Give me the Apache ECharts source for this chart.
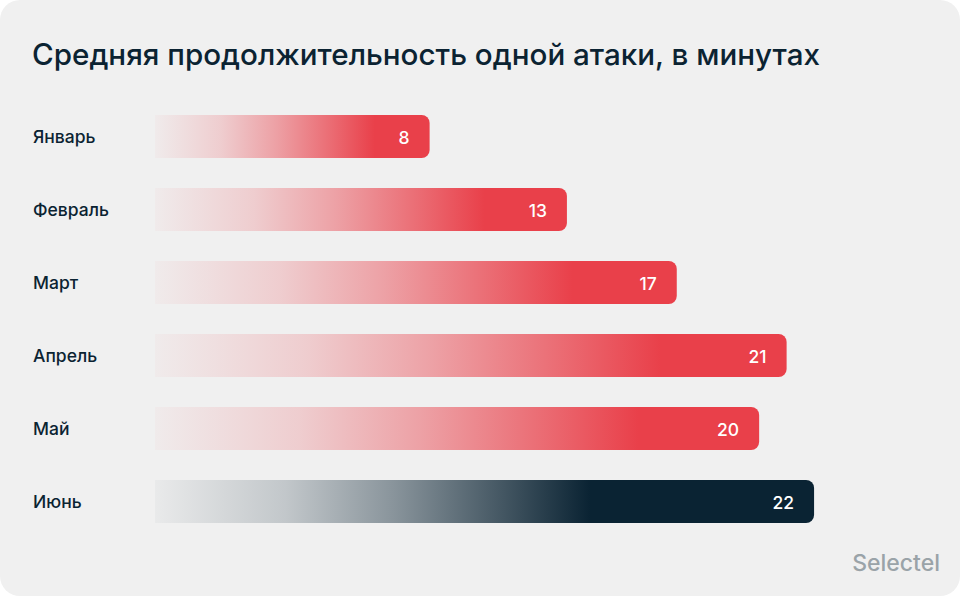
<!DOCTYPE html>
<html lang="ru">
<head>
<meta charset="utf-8">
<title>Средняя продолжительность одной атаки</title>
<script src="https://cdn.jsdelivr.net/npm/echarts@6/dist/echarts.min.js"></script>
<style>
  html, body { margin: 0; padding: 0; background: #ffffff; }
  #card {
    width: 960px; height: 596px;
    background: #f0f0f0;
    border-radius: 20px;
    overflow: hidden;
  }
  #chart { width: 960px; height: 596px; }
</style>
</head>
<body>
<div id="card"><div id="chart"></div></div>
<script>
// data
var months = ['Январь', 'Февраль', 'Март', 'Апрель', 'Май', 'Июнь'];
var minutes = [8, 13, 17, 21, 20, 22];
var highlight = [false, false, false, false, false, true];

// bars fade in from slightly left of zero
var barStart = -2;

(function() {
  var ink = '#0b2332';
  var font = 'Inter, "Noto Sans", sans-serif';

  function fade(rgb, solidAt) {
    return new echarts.graphic.LinearGradient(0, 0, 1, 0, [
      { offset: 0, color: 'rgba(' + rgb + ',0.03)' },
      { offset: solidAt * 0.3, color: 'rgba(' + rgb + ',0.2)' },
      { offset: solidAt * 0.55, color: 'rgba(' + rgb + ',0.45)' },
      { offset: solidAt * 0.8, color: 'rgba(' + rgb + ',0.75)' },
      { offset: solidAt, color: 'rgb(' + rgb + ')' },
      { offset: 1, color: 'rgb(' + rgb + ')' }
    ]);
  }

  var rows = minutes.map(function(v, i) { return [v, i, highlight[i] ? 1 : 0]; });

  var chart = echarts.init(document.getElementById('chart'), null, { renderer: 'svg' });
  chart.setOption({
    animation: false,
    backgroundColor: 'transparent',
    textStyle: { fontFamily: font },
    title: {
      text: 'Средняя продолжительность одной атаки, в минутах',
      left: 27, top: 34,
      textStyle: { color: ink, fontSize: 29.6, fontWeight: 500, fontFamily: font }
    },
    graphic: [{
      type: 'text',
      right: 20, bottom: 22,
      style: { text: 'Selectel', fill: '#9aa3a8', fontSize: 23, fontWeight: 500, fontFamily: font }
    }],
    grid: { left: 155, right: 91, top: 100, height: 438 },
    xAxis: {
      type: 'value',
      min: barStart, max: 24,
      show: false
    },
    yAxis: {
      type: 'category',
      data: months,
      inverse: true,
      axisLine: { show: false },
      axisTick: { show: false },
      axisLabel: {
        align: 'left', margin: 122,
        color: ink, fontSize: 17.5, fontWeight: 500,
        padding: [6, 0, 0, 0]
      }
    },
    series: [{
      type: 'custom',
      encode: { x: 0, y: 1 },
      data: rows,
      renderItem: function(params, api) {
        var start = api.coord([barStart, api.value(1)]);
        var end = api.coord([api.value(0), api.value(1)]);
        var h = api.size([0, 1])[1] * 43 / 73;
        var dark = api.value(2) === 1;
        return {
          type: 'group',
          children: [{
            type: 'rect',
            shape: { x: start[0], y: end[1] - h / 2, width: end[0] - start[0], height: h, r: [0, 8, 8, 0] },
            style: { fill: dark ? fade('10,35,51', 0.66) : fade('233,64,74', 0.8) }
          }, {
            type: 'text',
            style: {
              x: end[0] - 20, y: end[1] + 1,
              text: String(api.value(0)),
              align: 'right', verticalAlign: 'middle',
              fill: '#ffffff', fontSize: 17.5, fontWeight: 500,
              fontFamily: font
            }
          }]
        };
      }
    }]
  });
})();
</script>
</body>
</html>
